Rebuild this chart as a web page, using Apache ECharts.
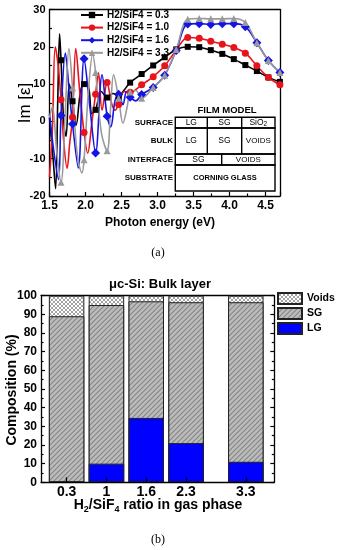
<!DOCTYPE html>
<html><head><meta charset="utf-8">
<script src="https://cdn.jsdelivr.net/npm/echarts@6/dist/echarts.min.js"></script>
<style>html,body{margin:0;padding:0;background:#fff}#c{width:337px;height:550px}</style>
</head><body><div id="c"></div>
<script>
const FONT = '"Liberation Sans", Arial, sans-serif';
// ---------- (a) Im[eps] spectra ----------
const seriesNames = ['H2/SiF4 = 0.3','H2/SiF4 = 1.0','H2/SiF4 = 1.6','H2/SiF4 = 3.3'];
const markerE = [1.66,1.82,1.98,2.14,2.30,2.46,2.62,2.78,2.94,3.10,3.26,3.42,3.58,3.74,3.90,4.06,4.22,4.38,4.54,4.70];
const ratio03 = [[1.50,1],[1.55,-10],[1.585,-18],[1.615,6],[1.64,23.5],[1.66,16.4],[1.70,-1],[1.73,-4],[1.775,10],[1.82,5.4],[1.87,-1],[1.93,8],[1.98,10],[2.04,9.5],[2.09,2],[2.14,3.1],[2.22,8],[2.30,6.4],[2.38,7.5],[2.46,6.8],[2.54,8.5],[2.62,10.4],[2.78,12.7],[2.94,15.0],[3.10,17.2],[3.26,19.3],[3.42,20.0],[3.58,19.9],[3.74,19.1],[3.90,18.1],[4.06,16.7],[4.22,15.1],[4.38,13.5],[4.54,11.8],[4.70,10.6]];
const ratio10 = [[1.50,-15],[1.54,-2],[1.58,20],[1.62,15],[1.66,5.8],[1.70,-6],[1.745,-12.6],[1.78,-6],[1.82,1.1],[1.865,19.5],[1.92,8],[1.98,-3],[2.03,-8.5],[2.09,0],[2.14,7.3],[2.18,13],[2.23,3],[2.30,10.4],[2.36,5],[2.41,3],[2.46,4.5],[2.54,8],[2.62,7.8],[2.78,9.8],[2.94,12.0],[3.10,14.9],[3.26,19.1],[3.42,22.5],[3.58,22.3],[3.74,21.5],[3.90,20.7],[4.06,19.8],[4.22,18.3],[4.38,14.9],[4.54,11.8],[4.70,9.8]];
const ratio16 = [[1.50,2],[1.56,-8],[1.625,-15.6],[1.66,1.6],[1.72,18.3],[1.77,9],[1.82,-0.7],[1.90,-12.5],[1.98,16.8],[2.06,4],[2.14,-8.5],[2.23,12.5],[2.30,1.4],[2.35,-1.5],[2.41,5.5],[2.46,7.3],[2.52,4.5],[2.57,8],[2.62,6.5],[2.70,5.5],[2.78,7.2],[2.94,9.1],[3.10,12.4],[3.26,19.0],[3.42,26.1],[3.58,26.2],[3.74,26.0],[3.90,26.2],[4.06,26.2],[4.22,25.4],[4.38,21.1],[4.54,16.3],[4.70,13.1]];
const ratio33 = [[1.50,1],[1.54,4],[1.60,-8],[1.66,-16.3],[1.72,3],[1.77,19.5],[1.82,9],[1.88,-8],[1.95,-13.8],[1.98,-10.3],[2.04,8],[2.10,18],[2.14,13.1],[2.22,-3],[2.30,-7.9],[2.35,4],[2.39,12.5],[2.46,6.2],[2.52,-0.5],[2.58,4],[2.62,7.9],[2.70,8.3],[2.78,6.2],[2.94,9.1],[3.10,12.4],[3.26,19.3],[3.42,27.4],[3.58,27.6],[3.74,27.5],[3.90,27.5],[4.06,27.6],[4.22,26.5],[4.38,21.1],[4.54,16.3],[4.70,13.1]];
// ---------- (b) bulk composition ----------
const ratioLabels = ['0.3','1','1.6','2.3','3.3'];
const slotPos = [1,2,3,4,5.5];
const LG = [0,10,34.5,21,11];
const SG = [89,85,62.5,75.5,85.5];
const Voids = [11,5,3,3.5,3.5];

const isMarker = e => markerE.some(m => Math.abs(m - e) < 1e-6);
function lineSeries(name, data, color, symbol, size){
  return {type:'line', name, xAxisIndex:0, yAxisIndex:0, data, smooth:0.35, symbol, showAllSymbol:true,
    symbolSize:(v)=> isMarker(v[0]) ? size : 0,
    lineStyle:{color, width:1.6}, itemStyle:{color}, emphasis:{disabled:true}, animation:false};
}
function hatch(){
  const c=document.createElement('canvas'); c.width=5; c.height=5;
  const g=c.getContext('2d'); g.fillStyle='#bcbcbc'; g.fillRect(0,0,5,5);
  g.strokeStyle='#858585'; g.lineWidth=1.1; g.beginPath();
  g.moveTo(-1,6); g.lineTo(6,-1); g.moveTo(-1,1); g.lineTo(1,-1); g.moveTo(4,6); g.lineTo(6,4); g.stroke();
  return c;
}
function cross(){
  const c=document.createElement('canvas'); c.width=4; c.height=4;
  const g=c.getContext('2d'); g.fillStyle='#fff'; g.fillRect(0,0,4,4);
  g.strokeStyle='#9a9a9a'; g.lineWidth=0.9; g.beginPath();
  g.moveTo(-1,5); g.lineTo(5,-1); g.moveTo(-1,-1); g.lineTo(5,5);
  g.moveTo(-1,1); g.lineTo(1,-1); g.moveTo(3,5); g.lineTo(5,3);
  g.moveTo(3,-1); g.lineTo(5,1); g.moveTo(-1,3); g.lineTo(1,5); g.stroke();
  return c;
}
const bold = (s)=>({fontFamily:FONT, fontWeight:'bold', fontSize:s, color:'#000'});
const axLine = {show:true, onZero:false, lineStyle:{color:'#000', width:1.3}};
const chart = echarts.init(document.getElementById('c'), null, {renderer:'canvas'});
const txt = (x,y,text,font,extra)=>Object.assign({type:'text', x, y, style:Object.assign({text, font, fill:'#000', align:'center', verticalAlign:'middle'}, extra||{})});
const rect = (x,y,w,h)=>({type:'rect', shape:{x,y,width:w,height:h}, style:{fill:'none', stroke:'#000', lineWidth:1.4}});
const small = 'bold 8px '+FONT;
const graphic = [
  Object.assign(txt(25,103,'Im [ε]','17px '+FONT), {rotation:Math.PI/2}),
  txt(160,223,'Photon energy (eV)','bold 12px '+FONT),
  txt(158,253,'(a)','12px "Liberation Serif", serif'),
  txt(227,110,'FILM MODEL','bold 9.5px '+FONT),
  rect(175.3,117.3,99.7,10.7), rect(175.3,128,99.7,26), rect(175.3,154,99.7,11), rect(175.3,165,99.7,26),
  {type:'line', shape:{x1:207.3,y1:117.3,x2:207.3,y2:154}, style:{stroke:'#000', lineWidth:1.4}},
  {type:'line', shape:{x1:241.7,y1:117.3,x2:241.7,y2:154}, style:{stroke:'#000', lineWidth:1.4}},
  {type:'line', shape:{x1:221.7,y1:154,x2:221.7,y2:165}, style:{stroke:'#000', lineWidth:1.4}},
  txt(173,122.7,'SURFACE',small,{align:'right'}), txt(173,141,'BULK',small,{align:'right'}),
  txt(173,159.5,'INTERFACE',small,{align:'right'}), txt(173,178,'SUBSTRATE',small,{align:'right'}),
  txt(191.3,122.7,'LG','8.5px '+FONT), txt(224.5,122.7,'SG','8.5px '+FONT),
  {type:'text', x:258.3, y:122.7, style:{text:'{a|SiO}{b|2}', fill:'#000', align:'center', verticalAlign:'middle',
     rich:{a:{fontFamily:FONT, fontSize:8.5, fill:'#000'}, b:{fontFamily:FONT, fontSize:6.5, fill:'#000', padding:[4,0,0,0]}}}},
  txt(191.3,141,'LG','8.5px '+FONT), txt(224.5,141,'SG','8.5px '+FONT), txt(258.3,141,'VOIDS','8px '+FONT),
  txt(198.5,159.5,'SG','8.5px '+FONT), txt(248.3,159.5,'VOIDS','8px '+FONT),
  txt(225,178,'CORNING GLASS','bold 7.5px '+FONT),
  txt(160,284,'μc-Si: Bulk layer','bold 13px '+FONT),
  Object.assign(txt(12,390,'Composition (%)','bold 14px '+FONT), {rotation:Math.PI/2}),
  {type:'text', x:158, y:505, style:{text:'{m|H}{s|2}{m|/SiF}{s|4}{m| ratio in gas phase}', fill:'#000', align:'center', verticalAlign:'middle',
     rich:{m:{fontFamily:FONT, fontWeight:'bold', fontSize:14, fill:'#000'}, s:{fontFamily:FONT, fontWeight:'bold', fontSize:9, fill:'#000', padding:[9,0,0,0]}}}},
  txt(158,540,'(b)','12px "Liberation Serif", serif')
];
// cumulative tops for overlapped (layered) bars
const topLG = LG.slice();
const topSG = LG.map((v,i)=>v+SG[i]);
const topVoids = topSG.map((v,i)=>v+Voids[i]);
const barBase = {type:'bar', xAxisIndex:2, yAxisIndex:2, barWidth:35.5, barGap:'-100%', animation:false, emphasis:{disabled:true}};
const option = {
  animation:false,
  grid:[{left:49.5, top:9.5, width:230.4, height:186.5}, {left:41, top:295.7, width:233.3, height:186.6}],
  legend:[
    {data:seriesNames, orient:'vertical', left:80, top:10, itemWidth:22, itemHeight:8, itemGap:2.6, padding:0,
     textStyle:Object.assign(bold(10),{padding:[0,0,0,-1]})},
    {data:['Voids','SG','LG'], orient:'vertical', left:277, top:292, itemWidth:24, itemHeight:11, itemGap:2, padding:0,
     icon:'rect', textStyle:bold(10.5)}
  ],
  xAxis:[
    {gridIndex:0, type:'value', min:1.5, max:4.7, interval:0.5, axisLine:axLine,
     axisTick:{inside:true, length:4, lineStyle:{width:1.2}}, minorTick:{show:true, splitNumber:2, length:2.5, lineStyle:{color:'#000', width:1.2}},
     splitLine:{show:false}, axisLabel:Object.assign(bold(12),{margin:4, formatter:v=>v.toFixed(1)})},
    {gridIndex:0, type:'value', position:'top', min:1.5, max:4.7, axisLine:axLine, axisTick:{show:false}, axisLabel:{show:false}, splitLine:{show:false}},
    {gridIndex:1, type:'value', min:0.357, max:6.215, axisLine:axLine, z:5,
     axisTick:{inside:true, length:5, customValues:slotPos, lineStyle:{width:1.3}},
     splitLine:{show:false}, axisLabel:Object.assign(bold(14),{margin:3, customValues:slotPos, formatter:v=>ratioLabels[slotPos.indexOf(v)]})},
    {gridIndex:1, type:'value', position:'top', min:0.357, max:6.215, axisLine:axLine, axisTick:{show:false}, axisLabel:{show:false}, splitLine:{show:false}}
  ],
  yAxis:[
    {gridIndex:0, type:'value', min:-20, max:30, interval:10, axisLine:axLine,
     axisTick:{inside:true, length:4, lineStyle:{width:1.2}}, minorTick:{show:true, splitNumber:2, length:2.5, lineStyle:{color:'#000', width:1.2}},
     splitLine:{show:false}, axisLabel:Object.assign(bold(11),{margin:4})},
    {gridIndex:0, type:'value', position:'right', min:-20, max:30, axisLine:axLine, axisTick:{show:false}, axisLabel:{show:false}, splitLine:{show:false}},
    {gridIndex:1, type:'value', min:0, max:100, interval:10, axisLine:axLine,
     axisTick:{inside:true, length:4, lineStyle:{width:1.2}}, minorTick:{show:true, splitNumber:2, length:2.5, lineStyle:{color:'#000', width:1.2}},
     splitLine:{show:false}, axisLabel:Object.assign(bold(12),{margin:4})},
    {gridIndex:1, type:'value', position:'right', min:0, max:100, interval:10, axisLine:axLine,
     axisTick:{inside:true, length:4, lineStyle:{width:1.2}}, minorTick:{show:true, splitNumber:2, length:2.5, lineStyle:{color:'#000', width:1.2}},
     axisLabel:{show:false}, splitLine:{show:false}}
  ],
  series:[
    lineSeries(seriesNames[0], ratio03, '#000000', 'rect', 6),
    lineSeries(seriesNames[1], ratio10, '#e8141c', 'circle', 7),
    lineSeries(seriesNames[2], ratio16, '#1414e6', 'diamond', 9),
    lineSeries(seriesNames[3], ratio33, '#9a9a9a', 'triangle', 7),
    Object.assign({name:'Voids', data:slotPos.map((p,i)=>[p,topVoids[i]]),
     itemStyle:{color:{image:cross(), repeat:'repeat'}, borderColor:'#222', borderWidth:1}}, barBase),
    Object.assign({name:'SG', data:slotPos.map((p,i)=>[p,topSG[i]]),
     itemStyle:{color:{image:hatch(), repeat:'repeat'}, borderColor:'#222', borderWidth:1}}, barBase),
    Object.assign({name:'LG', data:slotPos.map((p,i)=>[p,topLG[i]]),
     itemStyle:{color:'#0000ff', borderColor:'#222', borderWidth:1}}, barBase)
  ],
  graphic
};
chart.setOption(option);
</script></body></html>
